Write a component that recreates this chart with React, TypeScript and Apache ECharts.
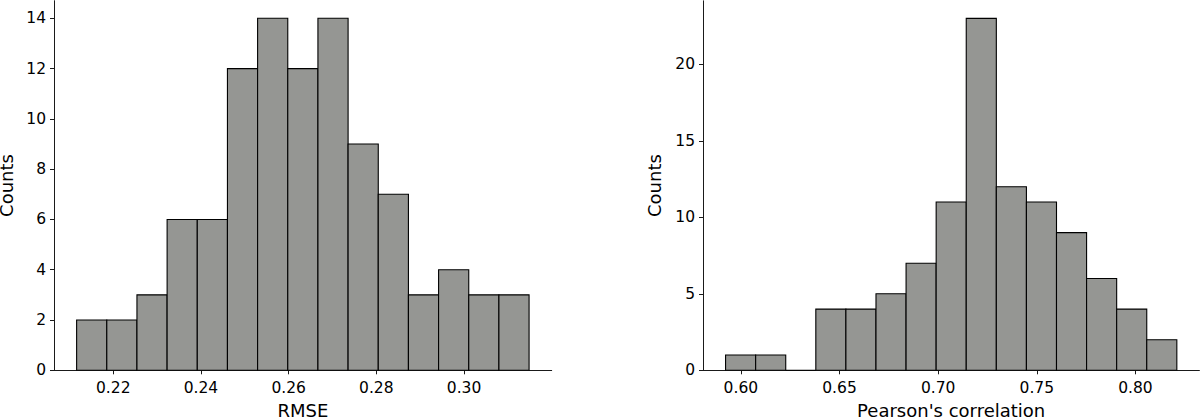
import React, { useEffect, useRef } from "react";
import * as echarts from "echarts";

// Left histogram: RMSE
const rmseBinStart = 0.21165;
const rmseBinWidth = 0.006879;
const rmseCounts = [2, 2, 3, 6, 6, 12, 14, 12, 14, 9, 7, 3, 4, 3, 3];
const rmseTicks = [0.22, 0.24, 0.26, 0.28, 0.3];
const rmseYTicks = [0, 2, 4, 6, 8, 10, 12, 14];

// Right histogram: Pearson's correlation
const pearsonBinStart = 0.59224;
const pearsonBinWidth = 0.01525;
const pearsonCounts = [1, 1, 0, 4, 4, 5, 7, 11, 23, 12, 11, 9, 6, 4, 2];
const pearsonTicks = [0.6, 0.65, 0.7, 0.75, 0.8];
const pearsonYTicks = [0, 5, 10, 15, 20];

const FONT = "DejaVu Sans";
const BAR_FILL = "#959693";
const AXIS_COLOR = "#1a1a1a";

function binData(start: number, width: number, counts: number[]) {
  return counts.map((c, i) => [start + i * width, start + (i + 1) * width, c]);
}

function xRange(start: number, width: number, n: number) {
  const lo = start;
  const hi = start + n * width;
  const m = (hi - lo) * 0.05;
  return [lo - m, hi + m];
}

function makeXAxis(gridIndex: number, range: number[], ticks: number[], name: string) {
  return {
    type: "value",
    gridIndex,
    min: range[0],
    max: range[1],
    name,
    nameLocation: "middle",
    nameGap: 29,
    nameTextStyle: { fontFamily: FONT, fontSize: 18, color: "#000" },
    splitLine: { show: false },
    axisLine: { show: true, lineStyle: { color: AXIS_COLOR, width: 1 } },
    axisTick: {
      show: true,
      length: 4,
      lineStyle: { color: AXIS_COLOR, width: 1 },
      customValues: ticks,
    },
    axisLabel: {
      show: true,
      margin: 10,
      fontFamily: FONT,
      fontSize: 15.5,
      color: "#000",
      customValues: ticks,
      formatter: (v: number) => v.toFixed(2),
    },
  };
}

function makeYAxis(gridIndex: number, max: number, ticks: number[], nameGap: number) {
  return {
    type: "value",
    gridIndex,
    min: 0,
    max,
    name: "Counts",
    nameLocation: "middle",
    nameRotate: 90,
    nameGap,
    nameTextStyle: { fontFamily: FONT, fontSize: 18, color: "#000" },
    splitLine: { show: false },
    axisLine: { show: true, lineStyle: { color: AXIS_COLOR, width: 1 } },
    axisTick: {
      show: true,
      length: 4,
      lineStyle: { color: AXIS_COLOR, width: 1 },
      customValues: ticks,
    },
    axisLabel: {
      show: true,
      margin: 8,
      fontFamily: FONT,
      fontSize: 15.5,
      color: "#000",
      customValues: ticks,
    },
  };
}

function makeSeries(index: number, data: number[][]) {
  return {
    type: "custom",
    xAxisIndex: index,
    yAxisIndex: index,
    encode: { x: [0, 1], y: 2 },
    data,
    renderItem: (params: any, api: any) => {
      const x0 = api.value(0);
      const x1 = api.value(1);
      const c = api.value(2);
      const p0 = api.coord([x0, c]);
      const p1 = api.coord([x1, 0]);
      return {
        type: "rect",
        shape: { x: p0[0], y: p0[1], width: p1[0] - p0[0], height: p1[1] - p0[1] },
        style: { fill: BAR_FILL, stroke: "#000", lineWidth: 1.1 },
      };
    },
  };
}

export default function App() {
  const ref = useRef<HTMLDivElement>(null);
  useEffect(() => {
    if (!ref.current) return;
    const chart = echarts.init(ref.current, undefined, { renderer: "svg" });
    const n1 = rmseCounts.length;
    const n2 = pearsonCounts.length;
    const r1 = xRange(rmseBinStart, rmseBinWidth, n1);
    const r2 = xRange(pearsonBinStart, pearsonBinWidth, n2);
    const y1max = Math.max(...rmseCounts) * 1.05;
    const y2max = Math.max(...pearsonCounts) * 1.05;
    chart.setOption({
      animation: false,
      backgroundColor: "#fff",
      grid: [
        { left: 54, right: 648.3, top: 0.7, bottom: 47.7, containLabel: false, outerBoundsMode: "none" },
        { left: 703, right: 0.6, top: 0.8, bottom: 47.7, containLabel: false, outerBoundsMode: "none" },
      ],
      xAxis: [
        makeXAxis(0, r1, rmseTicks, "RMSE"),
        makeXAxis(1, r2, pearsonTicks, "Pearson's correlation"),
      ],
      yAxis: [
        makeYAxis(0, y1max, rmseYTicks, 38.5),
        makeYAxis(1, y2max, pearsonYTicks, 40),
      ],
      series: [
        makeSeries(0, binData(rmseBinStart, rmseBinWidth, rmseCounts)),
        makeSeries(1, binData(pearsonBinStart, pearsonBinWidth, pearsonCounts)),
      ],
    });
    return () => chart.dispose();
  }, []);
  return (
    <div
      ref={ref}
      style={{ position: "fixed", left: 0, top: 0, width: 1200, height: 418, background: "#fff" }}
    />
  );
}
